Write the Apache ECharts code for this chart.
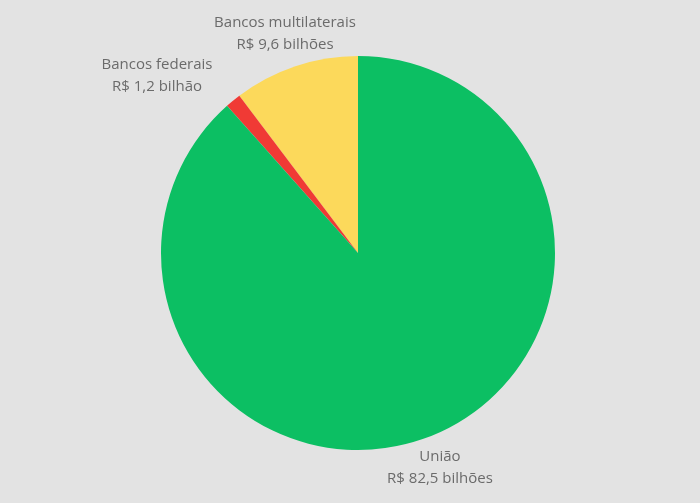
<!DOCTYPE html>
<html><head><meta charset="utf-8">
<script src="https://cdn.jsdelivr.net/npm/echarts@6/dist/echarts.min.js"></script>
<style>html,body{margin:0;padding:0;background:#e3e3e3}#c{width:700px;height:503px}</style>
</head><body><div id="c"></div>
<script>
const categories = ['Bancos multilaterais', 'Bancos federais', 'União'];
const values = [9.6, 1.2, 82.5];
const valueLabels = ['R$ 9,6 bilhões', 'R$ 1,2 bilhão', 'R$ 82,5 bilhões'];
const colors = ['#fcd95b', '#f03a35', '#0cbf63'];

// label centre of first line
const labelPos = [[285, 23], [157, 65], [440, 457]];
const chart = echarts.init(document.getElementById('c'));
chart.setOption({
  backgroundColor: '#e3e3e3',
  animation: false,
  graphic: categories.map((c, i) => ({
    type: 'text', x: labelPos[i][0], y: labelPos[i][1] - 11,
    style: { text: c + '\n' + valueLabels[i], fill: '#6b6b6b', font: '15px "Open Sans"', lineHeight: 21.5, align: 'center', verticalAlign: 'top' }
  })),
  series: [{
    type: 'pie',
    center: [358, 253],
    radius: 197,
    startAngle: 90,
    clockwise: false,
    label: { show: false },
    labelLine: { show: false },
    itemStyle: { borderWidth: 0 },
    emphasis: { disabled: true },
    data: categories.map((c, i) => ({ name: c, value: values[i], itemStyle: { color: colors[i] } }))
  }]
});
</script></body></html>
